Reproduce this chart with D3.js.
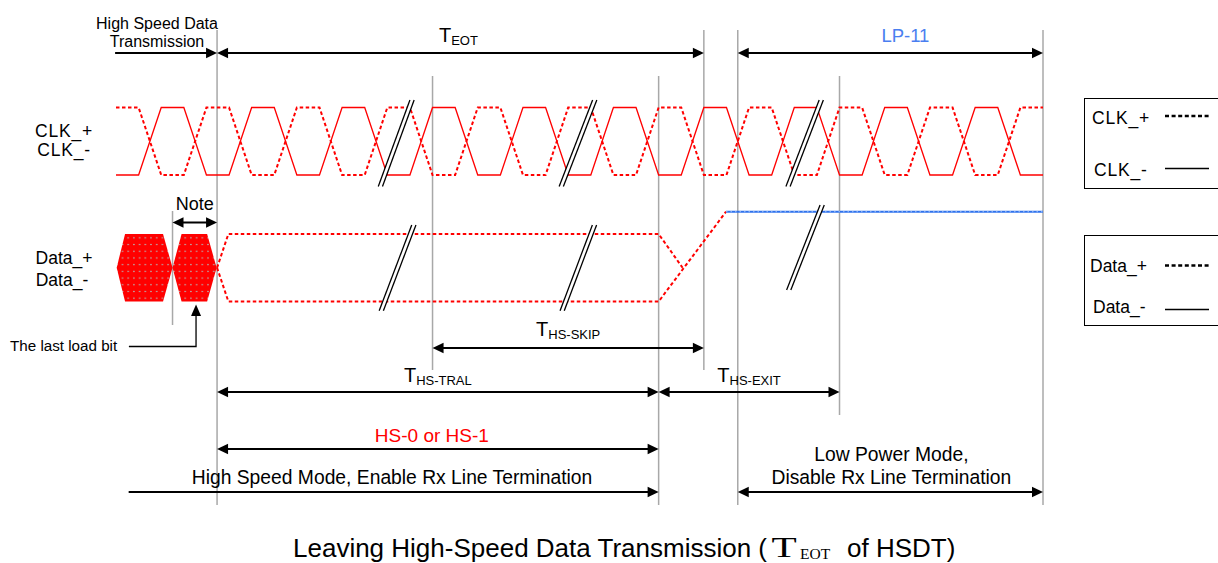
<!DOCTYPE html>
<html><head><meta charset="utf-8">
<script src="https://cdn.jsdelivr.net/npm/d3@7"></script>
<style>
body{margin:0;background:#fff}
svg{display:block;font-family:"Liberation Sans",Arial,sans-serif}
</style>
</head><body>
<svg id="c" width="1218" height="563"></svg>
<script>
// ---------- DATA (time in clock quarter-periods, levels in logic units) ----------
// CLK_- (solid) and CLK_+ (dashed) level at each quarter-period boundary, t = 0..41
const clkMinus = [0,0,1,1, 0,0,1,1, 0,0,1,1, 0,0,1,1, 0,0,1,1, 0,0,1,1, 0,0,1,1, 0,0,1,1, 0,0,1,1, 0,0,1,1, 0,0];
const clkPlus  = [1,1,0,0, 1,1,0,0, 1,1,0,0, 1,1,0,0, 1,1,0,0, 1,1,0,0, 1,1,0,0, 1,1,0,0, 1,1,0,0, 1,1,0,0, 1,1];
// Data lines (time, level)
const dataPlusT  = [4.47, 4.97, 24, 25.06];
const dataPlusV  = [0.5, 1, 1, 0.5];
const dataMinusT = [4.47, 4.97, 24, 26.98];
const dataMinusV = [0.5, 0, 0, 1.33];
const lp11T = [26.98, 41];
const lp11V = [1.33, 1.33];
// last data bits (hexagons): left point, top-left, top-right, right point
const bitT = [[0.03, 0.4, 2.08, 2.5], [2.5, 2.9, 4.03, 4.45]];
// break marks
const clkBreakT  = [[11.6, 13.0], [19.6, 21.08], [29.63, 31.1]];
const clkBreakV  = [[-0.17, 1.11], [-0.17, 1.11], [-0.17, 1.11]];
const dataBreakT = [[11.64, 13.08], [19.64, 21.07], [29.66, 31.14]];
const dataBreakV = [[-0.136, 1.133], [-0.136, 1.133], [0.17, 1.43]];
// timing markers
const markerTimes = [2.5, 4.47, 14, 24, 26, 27.5, 32, 41];
// dimension intervals
const intervalNames = ["HSDT", "TEOT", "LP-11", "Note", "THS-SKIP", "THS-TRAL", "THS-EXIT", "HS-0 or HS-1", "HS mode", "LP mode"];
const intervalStart = [-0.04, 4.47, 27.5, 2.5, 14, 4.47, 24, 4.47, 0.56, 27.5];
const intervalEnd   = [4.47, 26, 41, 4.47, 26, 24, 32, 24, 24, 41];
// leader to "The last load bit"
const leaderT = [0.57, 3.54];

// ---------- LAYOUT ----------
const markerTop    = [211, 30, 76, 76, 30, 30, 76, 30];
const markerBottom = [325, 505, 370, 505, 370, 505, 415, 505];
const intervalY     = [53, 53, 53, 222.5, 348, 392, 392, 449, 492, 492];
const intervalHeads = ["end","both","both","both","both","both","both","both","end","both"];

const svg = d3.select("#c");
const x = d3.scaleLinear().domain([0, 41]).range([116, 1043]);
const yClk = d3.scaleLinear().domain([0, 1]).range([175, 107.5]);
const yData = d3.scaleLinear().domain([0, 1]).range([301.5, 234]);

const defs = svg.append("defs");
const pat = defs.append("pattern").attr("id", "dots").attr("patternUnits", "userSpaceOnUse")
  .attr("width", 5.7).attr("height", 6.7);
pat.append("rect").attr("width", 5.7).attr("height", 6.7).attr("fill", "#ff0000");
pat.append("circle").attr("cx", 2.8).attr("cy", 3.3).attr("r", 0.75).attr("fill", "#a8d4d4");

// markers
markerTimes.forEach((t, i) => {
  svg.append("line").attr("x1", x(t)).attr("x2", x(t))
    .attr("y1", markerTop[i]).attr("y2", markerBottom[i])
    .attr("stroke", "#a8a8a8").attr("stroke-width", 1.5);
});

// clock
const clkLine = d3.line().x((d, i) => x(i)).y(d => yClk(d));
svg.append("path").attr("d", clkLine(clkMinus)).attr("fill", "none")
  .attr("stroke", "#ff0000").attr("stroke-width", 1.3);
svg.append("path").attr("d", clkLine(clkPlus)).attr("fill", "none")
  .attr("stroke", "#ff0000").attr("stroke-width", 2).attr("stroke-dasharray", "3.5,2.5");

// data bits
bitT.forEach(b => {
  const pts = [[b[0], 0.5], [b[1], 1], [b[2], 1], [b[3], 0.5], [b[2], 0], [b[1], 0]]
    .map(p => [x(p[0]), yData(p[1])]);
  svg.append("polygon").attr("points", pts.map(p => p.join(",")).join(" "))
    .attr("fill", "url(#dots)");
});

// data lines
const dLine = d3.line().x(d => x(d[0])).y(d => yData(d[1]));
svg.append("path").attr("d", dLine(dataPlusT.map((t, i) => [t, dataPlusV[i]])))
  .attr("fill", "none").attr("stroke", "#ff0000").attr("stroke-width", 2).attr("stroke-dasharray", "3.5,2.5");
svg.append("path").attr("d", dLine(dataMinusT.map((t, i) => [t, dataMinusV[i]])))
  .attr("fill", "none").attr("stroke", "#ff0000").attr("stroke-width", 2).attr("stroke-dasharray", "3.5,2.5");
svg.append("path").attr("d", dLine(lp11T.map((t, i) => [t, lp11V[i]])))
  .attr("fill", "none").attr("stroke", "#2f72ec").attr("stroke-width", 2.2);
svg.append("path").attr("d", dLine(lp11T.map((t, i) => [t, lp11V[i]])))
  .attr("fill", "none").attr("stroke", "#a9c8ff").attr("stroke-width", 0.9).attr("stroke-dasharray", "1.5,3");

// break marks
function breakMark(t, v, ys) {
  const a0 = [x(t[0]), ys(v[0])], a1 = [x(t[1]), ys(v[1])];
  const off = 4.2;
  const b0 = [a0[0] + off, a0[1]], b1 = [a1[0] + off, a1[1]];
  svg.append("polygon").attr("points", [a0, a1, b1, b0].map(p => p.join(",")).join(" "))
    .attr("fill", "#fff");
  [[a0, a1], [b0, b1]].forEach(s => svg.append("line")
    .attr("x1", s[0][0]).attr("y1", s[0][1]).attr("x2", s[1][0]).attr("y2", s[1][1])
    .attr("stroke", "#000").attr("stroke-width", 1.3));
}
clkBreakT.forEach((t, i) => breakMark(t, clkBreakV[i], yClk));
dataBreakT.forEach((t, i) => breakMark(t, dataBreakV[i], yData));

// arrows
function head(xt, y, dir) {
  const L = 11, W = 5.2;
  svg.append("polygon").attr("points",
    [[xt, y], [xt - dir * L, y - W], [xt - dir * L, y + W]].map(p => p.join(",")).join(" "))
    .attr("fill", "#000");
}
intervalNames.forEach((n, i) => {
  const x0 = x(intervalStart[i]), x1 = x(intervalEnd[i]), y = intervalY[i];
  const both = intervalHeads[i] === "both";
  svg.append("line").attr("x1", both ? x0 + 6 : x0).attr("x2", x1 - 6).attr("y1", y).attr("y2", y)
    .attr("stroke", "#000").attr("stroke-width", 2);
  head(x1, y, 1);
  if (both) head(x0, y, -1);
});

// leader to last load bit
const lx0 = x(leaderT[0]), lx1 = x(leaderT[1]);
svg.append("path").attr("d", `M${lx0},346.5H${lx1}V314`).attr("fill", "none")
  .attr("stroke", "#000").attr("stroke-width", 1.3);
svg.append("polygon").attr("points", `${lx1},304.5 ${lx1 - 5},316 ${lx1 + 5},316`).attr("fill", "#000");

// ---------- TEXT ----------
function txt(s, xx, yy, size, anchor, color, extra) {
  const t = svg.append("text").attr("x", xx).attr("y", yy).attr("font-size", size)
    .attr("text-anchor", anchor || "start").attr("fill", color || "#000").text(s);
  if (extra) extra(t);
  return t;
}
function subLabel(main, sub, xc, yb) {
  const t = svg.append("text").attr("x", xc).attr("y", yb).attr("text-anchor", "middle").attr("fill", "#000");
  t.append("tspan").attr("font-size", 20).text(main);
  t.append("tspan").attr("font-size", 13).attr("dy", 3).text(sub);
}
const mid = i => (x(intervalStart[i]) + x(intervalEnd[i])) / 2;

txt("High Speed Data", 157, 28.5, 16, "middle");
txt("Transmission", 157, 47, 16, "middle");
subLabel("T", "EOT", mid(1) - 2, 41.5);
txt("LP-11", mid(2) + 15, 41.5, 18.5, "middle", "#4a7ef0");

txt("CLK_+", 64, 137, 17.5, "middle", null, t => t.attr("letter-spacing", 0.8));
txt("CLK_-", 64, 156, 17.5, "middle", null, t => t.attr("letter-spacing", 0.8));
txt("Data_+", 64, 264, 17.5, "middle");
txt("Data_-", 62, 286, 17.5, "middle");

txt("Note", mid(3), 210, 18, "middle");
txt("The last load bit", 10, 351, 15.2, "start");

subLabel("T", "HS-SKIP", mid(4), 335.5);
subLabel("T", "HS-TRAL", mid(5), 382);
subLabel("T", "HS-EXIT", mid(6), 382);
txt("HS-0 or HS-1", mid(7) - 6, 441.5, 19, "middle", "#ff0000");
txt("High Speed Mode, Enable Rx Line Termination", 392, 483.5, 19.3, "middle");
txt("Low Power Mode,", mid(9) + 1, 461, 19.3, "middle");
txt("Disable Rx Line Termination", mid(9) + 1, 483.5, 19.3, "middle");

// legends
svg.append("rect").attr("x", 1084.5).attr("y", 98.5).attr("width", 160).attr("height", 90)
  .attr("fill", "none").attr("stroke", "#000").attr("stroke-width", 1);
svg.append("rect").attr("x", 1084.5).attr("y", 235.5).attr("width", 160).attr("height", 90)
  .attr("fill", "none").attr("stroke", "#000").attr("stroke-width", 1);
txt("CLK_+", 1092, 123.5, 17.5, "start", null, t => t.attr("letter-spacing", 0.8));
txt("CLK_-", 1094, 176, 17.5, "start", null, t => t.attr("letter-spacing", 0.8));
txt("Data_+", 1090, 271.5, 17.5, "start");
txt("Data_-", 1093, 313, 17.5, "start");
[[116, true], [168.5, false], [265.5, true], [309.5, false]].forEach(d => {
  const l = svg.append("line").attr("x1", 1165).attr("x2", 1209).attr("y1", d[0]).attr("y2", d[0])
    .attr("stroke", "#000");
  if (d[1]) l.attr("stroke-width", 2.6).attr("stroke-dasharray", "4,2.6");
  else l.attr("stroke-width", 1.3);
});

// caption
txt("Leaving High-Speed Data Transmission (", 293, 556.5, 26, "start");
svg.append("text").attr("x", 0).attr("y", 0).attr("font-size", 29.5)
  .attr("transform", "translate(771.5,556.5) scale(1.4,1)")
  .attr("font-family", "'Liberation Serif','Times New Roman',serif").text("T");
svg.append("text").attr("x", 800).attr("y", 559).attr("font-size", 15.5)
  .attr("font-family", "'Liberation Serif','Times New Roman',serif").text("EOT");
txt("of HSDT)", 847, 556.5, 26, "start");
</script>
</body></html>
